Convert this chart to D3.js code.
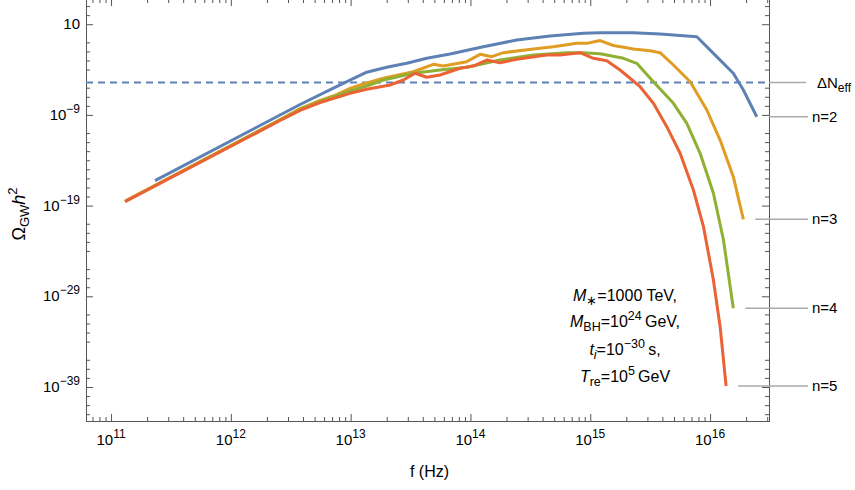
<!DOCTYPE html>
<html>
<head>
<meta charset="utf-8">
<script src="https://cdn.jsdelivr.net/npm/d3@7"></script>
<style>
  body { margin: 0; background: #fff; }
  text { font-family: "Liberation Sans", Arial, sans-serif; fill: #000; }
</style>
</head>
<body>
<script>
// values, as log10(f / Hz) and log10(Omega_GW h^2)
const n2LogF = [11.367, 12.578, 12.856, 13.134, 13.301, 13.468, 13.635, 13.830, 14.107, 14.387, 14.664, 14.942, 15.082, 15.360, 15.583, 15.890, 16.028, 16.194, 16.278, 16.390];
const n2LogOmega = [-16.25, -7.85, -6.04, -4.29, -3.75, -3.31, -2.76, -2.29, -1.48, -0.74, -0.30, 0.00, 0.06, 0.06, -0.08, -0.38, -2.21, -4.41, -6.25, -9.20];

const n3LogF = [11.117, 12.411, 12.578, 12.745, 12.856, 12.995, 13.078, 13.273, 13.523, 13.690, 13.774, 13.969, 14.080, 14.178, 14.275, 14.525, 14.692, 14.887, 14.971, 15.082, 15.193, 15.360, 15.499, 15.583, 15.694, 15.834, 15.973, 16.084, 16.194, 16.278];
const n3LogOmega = [-18.49, -9.51, -8.30, -7.41, -6.92, -6.07, -5.70, -4.96, -4.24, -3.42, -3.61, -3.13, -2.32, -2.58, -2.14, -1.73, -1.48, -1.11, -1.11, -0.80, -1.35, -1.73, -1.92, -2.14, -3.50, -5.34, -8.46, -11.77, -15.81, -20.51];

const n4LogF = [11.117, 12.411, 12.578, 12.745, 12.995, 13.134, 13.273, 13.523, 13.746, 13.969, 14.247, 14.525, 14.804, 14.942, 15.082, 15.277, 15.388, 15.527, 15.694, 15.806, 15.917, 16.028, 16.112, 16.194];
const n4LogOmega = [-18.55, -9.56, -8.40, -7.52, -6.36, -5.81, -5.15, -4.41, -4.05, -3.75, -2.95, -2.40, -2.14, -2.14, -2.25, -2.76, -3.31, -5.34, -7.72, -9.93, -13.23, -17.64, -22.79, -30.32];

const n5LogF = [11.117, 12.411, 12.578, 12.745, 12.995, 13.134, 13.329, 13.440, 13.538, 13.635, 13.746, 13.913, 14.024, 14.136, 14.247, 14.387, 14.637, 14.748, 14.915, 15.026, 15.138, 15.249, 15.416, 15.527, 15.639, 15.750, 15.861, 15.945, 16.028, 16.084, 16.134];
const n5LogOmega = [-18.57, -9.62, -8.51, -7.63, -6.62, -6.18, -5.70, -5.15, -4.41, -4.85, -4.60, -3.86, -3.61, -2.95, -3.24, -2.87, -2.40, -2.40, -2.14, -2.76, -3.02, -4.05, -5.89, -7.72, -10.30, -13.23, -17.28, -21.32, -27.20, -32.35, -38.89];

const deltaNeffLogOmega = -5.43;

const seriesLabels = ['n=2', 'n=3', 'n=4', 'n=5'];
const xMajorExps = [11, 12, 13, 14, 15, 16];
const yMajorExps = [1, -9, -19, -29, -39];
const ySkipMinor = [0, -5, -10, -20, -25, -30, -35];

const colors = ['#5e81b5', '#e19c24', '#8fb032', '#eb6235'];

const width = 855;
const height = 490;
const plot = { left: 86, right: 769, top: -1, bottom: 421 };

const svg = d3.select('body')
  .append('svg')
  .attr('width', width)
  .attr('height', height);

const x = d3.scaleLog()
  .domain([Math.pow(10, 10.791), Math.pow(10, 16.492)])
  .range([plot.left, plot.right]);

const y = d3.scaleLog()
  .domain([Math.pow(10, -42.75), Math.pow(10, 3.78)])
  .range([plot.bottom, plot.top]);

const pow10 = e => Math.pow(10, e);

const series = [
  [n2LogF, n2LogOmega],
  [n3LogF, n3LogOmega],
  [n4LogF, n4LogOmega],
  [n5LogF, n5LogOmega]
].map(([lf, lo], i) => ({
  label: seriesLabels[i],
  color: colors[i],
  values: lf.map((f, j) => ({ f: pow10(f), omega: pow10(lo[j]) }))
}));

// tick values
const xMinor = [];
for (let e = 10; e <= 16; e++) {
  for (let k = 2; k <= 9; k++) {
    const v = k * pow10(e);
    if (v > x.domain()[0] && v < x.domain()[1]) xMinor.push(v);
  }
}
const xMajor = xMajorExps.map(pow10);

const yMinor = [];
for (let e = -42; e <= 3; e++) {
  if (yMajorExps.includes(e) || ySkipMinor.includes(e)) continue;
  yMinor.push(pow10(e));
}
const yMajor = yMajorExps.map(pow10);

const frameColor = '#555';

const drawAxis = (axis, transform) => {
  const g = svg.append('g')
    .attr('transform', transform)
    .call(axis);
  g.select('.domain').remove();
  g.selectAll('line').attr('stroke', frameColor);
  g.selectAll('text').remove();
  return g;
};

// ticks on all four sides, pointing inwards
[[xMajor, 7], [xMinor, 4]].forEach(([vals, size]) => {
  drawAxis(d3.axisTop(x).tickValues(vals).tickSize(size).tickSizeOuter(0), `translate(0,${plot.bottom})`);
  drawAxis(d3.axisBottom(x).tickValues(vals).tickSize(size).tickSizeOuter(0), `translate(0,${plot.top})`);
});
[[yMajor, 7], [yMinor, 4]].forEach(([vals, size]) => {
  drawAxis(d3.axisRight(y).tickValues(vals).tickSize(size).tickSizeOuter(0), `translate(${plot.left},0)`);
  drawAxis(d3.axisLeft(y).tickValues(vals).tickSize(size).tickSizeOuter(0), `translate(${plot.right},0)`);
});

svg.append('rect')
  .attr('x', plot.left + 0.5)
  .attr('y', plot.top + 0.5)
  .attr('width', plot.right - plot.left)
  .attr('height', plot.bottom - plot.top)
  .attr('fill', 'none')
  .attr('stroke', frameColor)
  .attr('stroke-width', 1);

// x tick labels
xMajorExps.forEach(e => {
  const t = svg.append('text')
    .attr('x', x(pow10(e)))
    .attr('y', 445)
    .attr('text-anchor', 'middle')
    .style('font-size', '15px');
  t.append('tspan').text('10');
  t.append('tspan').attr('dy', -7).style('font-size', '12px').text(e);
});

// y tick labels
yMajorExps.forEach(e => {
  const t = svg.append('text')
    .attr('x', 80)
    .attr('y', y(pow10(e)) + 5)
    .attr('text-anchor', 'end')
    .style('font-size', '15px');
  t.append('tspan').text('10');
  if (e !== 1) {
    t.append('tspan').attr('dy', -7).style('font-size', '12px').text(String(e).replace('-', '\u2212'));
  }
});

// axis titles
svg.append('text')
  .attr('x', (plot.left + plot.right) / 2 + 2)
  .attr('y', 477)
  .attr('text-anchor', 'middle')
  .style('font-size', '16px')
  .text('f (Hz)');

const yTitle = svg.append('text')
  .attr('transform', 'translate(25,214) rotate(-90)')
  .attr('text-anchor', 'middle')
  .style('font-size', '18px');
yTitle.append('tspan').text('\u03a9');
yTitle.append('tspan').attr('dy', 4).style('font-size', '13px').text('GW');
yTitle.append('tspan').attr('dy', -4).style('font-style', 'italic').text('h');
yTitle.append('tspan').attr('dy', -8).style('font-size', '13px').text('2');

// Delta N_eff bound
svg.append('line')
  .attr('x1', plot.left)
  .attr('x2', plot.right)
  .attr('y1', y(pow10(deltaNeffLogOmega)))
  .attr('y2', y(pow10(deltaNeffLogOmega)))
  .attr('stroke', colors[0])
  .attr('stroke-width', 2)
  .attr('stroke-dasharray', '7,5');

const line = d3.line()
  .x(d => x(d.f))
  .y(d => y(d.omega));

svg.append('g')
  .selectAll('path')
  .data(series)
  .join('path')
  .attr('d', d => line(d.values))
  .attr('fill', 'none')
  .attr('stroke', d => d.color)
  .attr('stroke-width', 3)
  .attr('stroke-linejoin', 'round');

// callouts
const callout = svg.append('g');
series.forEach(s => {
  const last = s.values[s.values.length - 1];
  const cy = y(last.omega);
  callout.append('line')
    .attr('x1', x(last.f) + 12)
    .attr('x2', 808)
    .attr('y1', cy)
    .attr('y2', cy)
    .attr('stroke', '#aaa')
    .attr('stroke-width', 1.5);
  callout.append('text')
    .attr('x', 812)
    .attr('y', cy + 5)
    .style('font-size', '15px')
    .text(s.label);
});

const ny = y(pow10(deltaNeffLogOmega));
callout.append('line')
  .attr('x1', plot.right)
  .attr('x2', 806)
  .attr('y1', ny)
  .attr('y2', ny)
  .attr('stroke', '#aaa')
  .attr('stroke-width', 1.5);
const nt = callout.append('text')
  .attr('x', 817)
  .attr('y', ny + 5)
  .style('font-size', '15px');
nt.append('tspan').text('\u0394N');
nt.append('tspan').attr('dy', 4).style('font-size', '12px').text('eff');

// parameter block
const paramLines = [
  [['M', 'i'], ['\u2217', 'sub'], ['=1000 TeV,', '']],
  [['M', 'i'], ['BH', 'sub'], ['=10', ''], ['24', 'sup'], ['\u2009GeV,', '']],
  [['t', 'i'], ['i', 'subi'], ['=10', ''], ['\u221230', 'sup'], ['\u2009s,', '']],
  [['T', 'i'], ['re', 'sub'], ['=10', ''], ['5', 'sup'], ['\u2009GeV', '']]
];
const paramBaselines = [301, 327, 355, 382];

paramLines.forEach((parts, i) => {
  const t = svg.append('text')
    .attr('x', 625)
    .attr('y', paramBaselines[i])
    .attr('text-anchor', 'middle')
    .style('font-size', '16px');
  let shift = 0;
  parts.forEach(([txt, kind]) => {
    const ts = t.append('tspan').text(txt);
    let target = 0;
    if (kind === 'sub' || kind === 'subi') target = 4;
    if (kind === 'sup') target = -7;
    ts.attr('dy', target - shift);
    shift = target;
    if (kind === 'i' || kind === 'subi') ts.style('font-style', 'italic');
    if (kind === 'sub' || kind === 'subi' || kind === 'sup') ts.style('font-size', '12.5px');
  });
});
</script>
</body>
</html>
